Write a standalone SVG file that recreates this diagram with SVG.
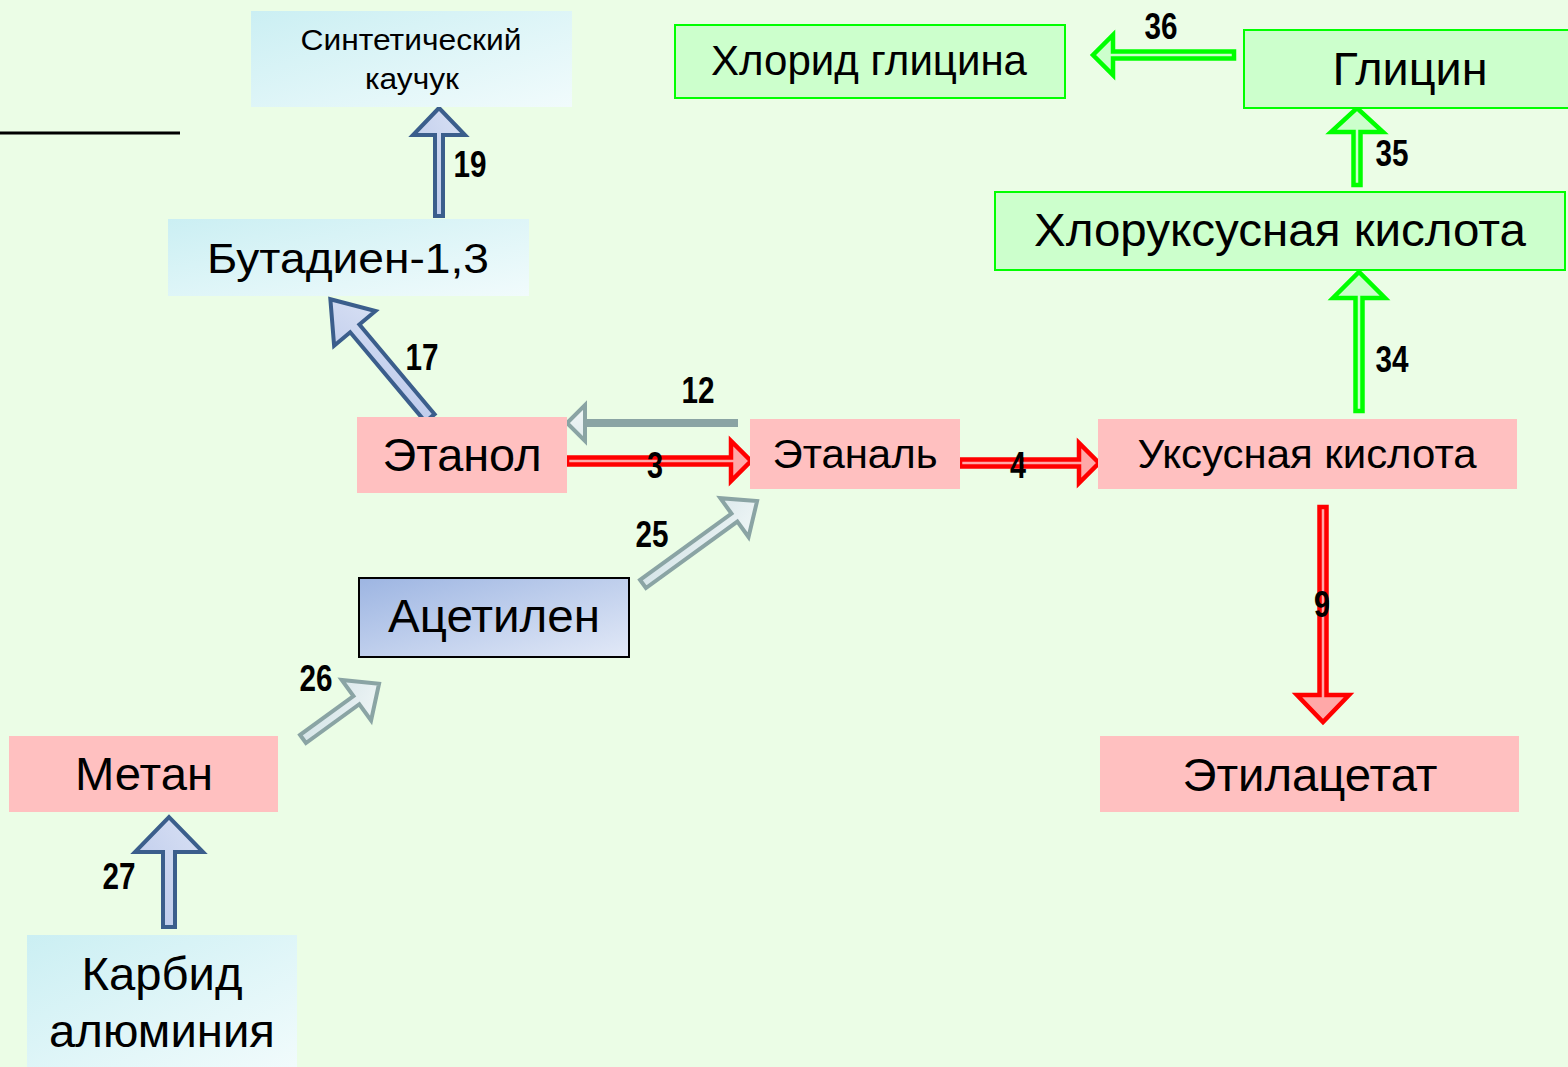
<svg xmlns="http://www.w3.org/2000/svg" width="1568" height="1067" viewBox="0 0 1568 1067">
<defs>
<linearGradient id="cyan" x1="0" y1="0" x2="1" y2="1">
<stop offset="0" stop-color="#cbeff3"/>
<stop offset="1" stop-color="#f1fbfc"/>
</linearGradient>
<linearGradient id="acet" x1="0" y1="0" x2="1" y2="1">
<stop offset="0" stop-color="#9db5e2"/>
<stop offset="1" stop-color="#e2e9f7"/>
</linearGradient>
<linearGradient id="bluefill" x1="0" y1="0" x2="1" y2="1">
<stop offset="0" stop-color="#b9c7ea"/>
<stop offset="1" stop-color="#d9e1f4"/>
</linearGradient>
<linearGradient id="grayfill" x1="0" y1="0" x2="1" y2="1">
<stop offset="0" stop-color="#cfe0e4"/>
<stop offset="1" stop-color="#f2f8f8"/>
</linearGradient>
</defs>
<style>
.t{font-family:"Liberation Sans",Arial,sans-serif;fill:#000;text-anchor:middle}
.lbl{font-family:"Liberation Sans Narrow","Liberation Sans",Arial,sans-serif;font-weight:bold;font-size:36px;fill:#000;text-anchor:middle}
.pink{fill:#ffc0c0}
.cy{fill:url(#cyan)}
.gr{fill:#ccffcc;stroke:#00ff00;stroke-width:2}
.ab{fill:url(#bluefill);stroke:#3b5e8c;stroke-width:4;stroke-linejoin:miter}
.ag{fill:url(#grayfill);stroke:#8aa4a4;stroke-width:4}
.ar{fill:#ffa8a8;stroke:#ff0000;stroke-width:4.5}
.an{fill:#ccffcc;stroke:#00ff00;stroke-width:4.5}
</style>
<rect width="1568" height="1067" fill="#ebfde6"/>
<line x1="0" y1="133" x2="180" y2="133" stroke="#000" stroke-width="3"/>

<g id="connectors">
<polygon class="ab" points="0,-4 81,-4 81,-26 108,0 81,26 81,4 0,4" transform="translate(439,216) rotate(-90)"/>
<polygon class="ab" points="0,-6 117,-6 117,-27 155,0 117,27 117,6 0,6" transform="translate(430,418) rotate(-130)"/>
<polygon class="ag" points="0,-2 151,-2 151,-18 169,0 151,18 151,2 0,2" transform="translate(736,423) rotate(180)"/>
<polygon class="ar" points="0,-3.5 164,-3.5 164,-20 184,0 164,20 164,3.5 0,3.5" transform="translate(567,461)"/>
<polygon class="ar" points="0,-3.5 119,-3.5 119,-20 139,0 119,20 119,3.5 0,3.5" transform="translate(960,463)"/>
<polygon class="ar" points="0,-3.5 188,-3.5 188,-26 215,0 188,26 188,3.5 0,3.5" transform="translate(1323,507) rotate(90)"/>
<polygon class="ag" points="0,-5 113,-5 113,-24 141,0 113,24 113,5 0,5" transform="translate(643,584) rotate(-36)"/>
<polygon class="ag" points="0,-5 66,-5 66,-25 94,0 66,25 66,5 0,5" transform="translate(303,739) rotate(-36)"/>
<polygon class="ab" points="0,-6 75,-6 75,-34 110,0 75,34 75,6 0,6" transform="translate(169,927) rotate(-90)"/>
<polygon class="an" points="0,-3.5 113,-3.5 113,-26 139,0 113,26 113,3.5 0,3.5" transform="translate(1359,411) rotate(-90)"/>
<polygon class="an" points="0,-3.5 53,-3.5 53,-26 77,0 53,26 53,3.5 0,3.5" transform="translate(1357,185) rotate(-90)"/>
<polygon class="an" points="0,-3.5 121,-3.5 121,-20 141,0 121,20 121,3.5 0,3.5" transform="translate(1234,55) rotate(180)"/>
<text class="lbl" x="470" y="177" textLength="33" lengthAdjust="spacingAndGlyphs">19</text>
<text class="lbl" x="422" y="370" textLength="33" lengthAdjust="spacingAndGlyphs">17</text>
<text class="lbl" x="698" y="403" textLength="33" lengthAdjust="spacingAndGlyphs">12</text>
<text class="lbl" x="655" y="478" textLength="16" lengthAdjust="spacingAndGlyphs">3</text>
<text class="lbl" x="652" y="547" textLength="33" lengthAdjust="spacingAndGlyphs">25</text>
<text class="lbl" x="316" y="691" textLength="33" lengthAdjust="spacingAndGlyphs">26</text>
<text class="lbl" x="119" y="889" textLength="33" lengthAdjust="spacingAndGlyphs">27</text>
<text class="lbl" x="1018" y="478" textLength="16" lengthAdjust="spacingAndGlyphs">4</text>
<text class="lbl" x="1322" y="617" textLength="16" lengthAdjust="spacingAndGlyphs">9</text>
<text class="lbl" x="1392" y="372" textLength="33" lengthAdjust="spacingAndGlyphs">34</text>
<text class="lbl" x="1392" y="166" textLength="33" lengthAdjust="spacingAndGlyphs">35</text>
<text class="lbl" x="1161" y="39" textLength="33" lengthAdjust="spacingAndGlyphs">36</text>
</g>

<g id="node-kauchuk">
<rect class="cy" x="251" y="11" width="321" height="96"/>
<text class="t" x="411" y="50" font-size="30" textLength="221" lengthAdjust="spacingAndGlyphs">Синтетический</text>
<text class="t" x="412" y="89" font-size="30" textLength="94" lengthAdjust="spacingAndGlyphs">каучук</text>
</g>
<g id="node-butadien">
<rect class="cy" x="168" y="219" width="361" height="77"/>
<text class="t" x="348" y="273" font-size="42" textLength="282" lengthAdjust="spacingAndGlyphs">Бутадиен-1,3</text>
</g>
<g id="node-etanol">
<rect class="pink" x="357" y="417" width="210" height="76"/>
<text class="t" x="462" y="471" font-size="46" textLength="159" lengthAdjust="spacingAndGlyphs">Этанол</text>
</g>
<g id="node-etanal">
<rect class="pink" x="750" y="419" width="210" height="70"/>
<text class="t" x="855" y="468" font-size="40" textLength="165" lengthAdjust="spacingAndGlyphs">Этаналь</text>
</g>
<g id="node-uksus">
<rect class="pink" x="1098" y="419" width="419" height="70"/>
<text class="t" x="1307" y="468" font-size="40" textLength="339" lengthAdjust="spacingAndGlyphs">Уксусная кислота</text>
</g>
<g id="node-acetilen">
<rect x="359" y="578" width="270" height="79" fill="url(#acet)" stroke="#000" stroke-width="2"/>
<text class="t" x="494" y="632" font-size="46" textLength="212" lengthAdjust="spacingAndGlyphs">Ацетилен</text>
</g>
<g id="node-metan">
<rect class="pink" x="9" y="736" width="269" height="76"/>
<text class="t" x="144" y="790" font-size="46" textLength="138" lengthAdjust="spacingAndGlyphs">Метан</text>
</g>
<g id="node-karbid">
<rect class="cy" x="27" y="935" width="270" height="132"/>
<text class="t" x="162" y="990" font-size="46" textLength="161" lengthAdjust="spacingAndGlyphs">Карбид</text>
<text class="t" x="162" y="1047" font-size="46" textLength="226" lengthAdjust="spacingAndGlyphs">алюминия</text>
</g>
<g id="node-etilacetat">
<rect class="pink" x="1100" y="736" width="419" height="76"/>
<text class="t" x="1310" y="791" font-size="46" textLength="255" lengthAdjust="spacingAndGlyphs">Этилацетат</text>
</g>
<g id="node-hlorid">
<rect class="gr" x="675" y="25" width="390" height="73"/>
<text class="t" x="869" y="75" font-size="42" textLength="316" lengthAdjust="spacingAndGlyphs">Хлорид глицина</text>
</g>
<g id="node-glicin">
<rect class="gr" x="1244" y="30" width="330" height="78"/>
<text class="t" x="1410" y="85" font-size="46" textLength="155" lengthAdjust="spacingAndGlyphs">Глицин</text>
</g>
<g id="node-hloruksus">
<rect class="gr" x="995" y="192" width="570" height="78"/>
<text class="t" x="1280" y="246" font-size="46" textLength="492" lengthAdjust="spacingAndGlyphs">Хлоруксусная кислота</text>
</g>
</svg>
